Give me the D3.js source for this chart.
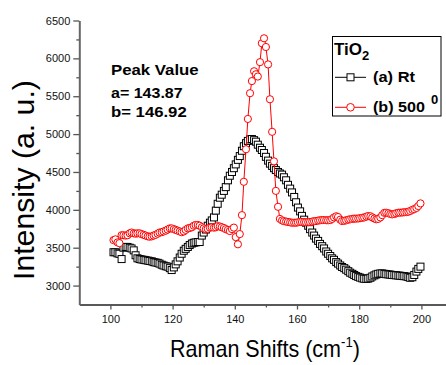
<!DOCTYPE html>
<html>
<head>
<meta charset="utf-8">
<script src="https://cdn.jsdelivr.net/npm/d3@7"></script>
<style>
  body { margin: 0; background: #fff; }
  svg { display: block; font-family: Arial, "Liberation Sans", sans-serif; }
</style>
</head>
<body>
<div id="chart"></div>
<script>
// raman shift grid (cm-1), shared by both spectra
const shifts = [
  101.0,101.6,102.3,102.9,103.6,104.2,104.9,105.5,106.2,106.8,
  107.5,108.1,108.7,109.4,110.0,110.7,111.3,112.0,112.6,113.3,
  113.9,114.5,115.2,115.8,116.5,117.1,117.8,118.4,119.1,119.7,
  120.4,121.0,121.6,122.3,122.9,123.6,124.2,124.9,125.5,126.2,
  126.8,127.4,128.1,128.7,129.4,130.0,130.7,131.3,132.0,132.6,
  133.3,133.9,134.5,135.2,135.8,136.5,137.1,137.8,138.4,139.1,
  139.7,140.3,141.0,141.6,142.3,142.9,143.6,144.2,144.9,145.5,
  146.2,146.8,147.4,148.1,148.7,149.4,150.0,150.7,151.3,152.0,
  152.6,153.2,153.9,154.5,155.2,155.8,156.5,157.1,157.8,158.4,
  159.1,159.7,160.3,161.0,161.6,162.3,162.9,163.6,164.2,164.9,
  165.5,166.1,166.8,167.4,168.1,168.7,169.4,170.0,170.7,171.3,
  171.9,172.6,173.2,173.9,174.5,175.2,175.8,176.5,177.1,177.8,
  178.4,179.0,179.7,180.3,181.0,181.6,182.3,182.9,183.6,184.2,
  184.9,185.5,186.1,186.8,187.4,188.1,188.7,189.4,190.0,190.6,
  191.3,191.9,192.6,193.2,193.9,194.5,195.2,195.8,196.4,197.1,
  197.7,198.4,199.0,199.7
];

// (a) Rt
const rtIntensity = [
  3440,3440,3425,3420,3350,3500,3510,3510,3500,3490,
  3465,3400,3360,3350,3345,3340,3335,3330,3325,3320,
  3310,3305,3300,3290,3275,3265,3255,3250,3230,3205,
  3240,3280,3320,3370,3420,3460,3485,3510,3535,3555,
  3565,3570,3575,3575,3660,3700,3740,3790,3830,3860,
  3900,3990,4080,4160,4200,4250,4300,4390,4450,4500,
  4550,4600,4660,4710,4780,4840,4880,4910,4930,4935,
  4920,4900,4860,4820,4790,4750,4700,4650,4610,4580,
  4550,4525,4500,4480,4465,4430,4390,4330,4280,4230,
  4170,4100,4030,3980,3920,3870,3830,3790,3745,3700,
  3660,3620,3590,3550,3520,3490,3450,3420,3390,3360,
  3340,3310,3290,3265,3245,3230,3210,3190,3170,3155,
  3140,3125,3115,3105,3095,3090,3088,3092,3103,3120,
  3135,3147,3155,3160,3160,3155,3150,3147,3145,3140,
  3138,3135,3132,3130,3126,3124,3120,3112,3103,3110,
  3140,3185,3220,3250
];

// (b) 500 0
const annealIntensity = [
  3600,3610,3570,3560,3665,3665,3660,3665,3690,3700,
  3690,3685,3690,3690,3680,3670,3660,3650,3645,3650,
  3660,3670,3685,3700,3705,3715,3725,3740,3755,3755,
  3745,3735,3725,3715,3705,3715,3735,3755,3760,3770,
  3790,3800,3800,3790,3770,3755,3745,3750,3765,3770,
  3765,3770,3785,3780,3770,3760,3745,3735,3720,3745,
  3765,3640,3545,3680,3930,4370,4800,5200,5540,5700,
  5830,5790,5760,5950,6200,6265,6150,5920,5460,5030,
  4640,4250,4040,3880,3860,3850,3845,3840,3835,3830,
  3830,3830,3835,3840,3840,3838,3836,3838,3840,3845,
  3850,3852,3858,3862,3865,3865,3863,3862,3865,3880,
  3900,3915,3905,3870,3852,3855,3862,3870,3875,3880,
  3884,3884,3886,3890,3895,3900,3910,3918,3915,3900,
  3885,3875,3880,3900,3930,3960,3962,3955,3945,3940,
  3945,3955,3962,3963,3965,3968,3970,3975,3985,4000,
  4010,4025,4050,4085
];

const xTicks = [100, 120, 140, 160, 180, 200];
const xMinorTicks = [110, 130, 150, 170, 190, 210];
const yTicks = [3000, 3500, 4000, 4500, 5000, 5500, 6000, 6500];
const yMinorTicks = [3250, 3750, 4250, 4750, 5250, 5750, 6250];

const peakLines = ["Peak Value", "a= 143.87", "b= 146.92"];
const legendNames = ["(a) Rt", "(b) 500"];

const W = 446, H = 365;

const svg = d3.select("#chart").append("svg")
    .attr("width", W)
    .attr("height", H);

svg.append("rect").attr("width", W).attr("height", H).attr("fill", "#fff");

const x = d3.scaleLinear().domain([90, 210]).range([79.3, 452.5]);
const y = d3.scaleLinear().domain([2750, 6500]).range([304.5, 20.5]);

// squeeze a group horizontally so it is targetW wide, left edge at x0
function fitWidth(g, x0, y0, targetW) {
    const w = g.node().getBBox().width;
    g.attr("transform", `translate(${x0},${y0}) scale(${targetW / w},1)`);
}

// axes
const axisColor = "#555";

const gx = svg.append("g").attr("transform", "translate(0,304.5)");
gx.call(d3.axisBottom(x).tickValues(xTicks).tickSize(5).tickSizeOuter(0).tickPadding(6));
gx.append("g").call(d3.axisBottom(x).tickValues(xMinorTicks).tickSize(3).tickFormat(""))
    .select(".domain").remove();

const gy = svg.append("g").attr("transform", "translate(79.3,0)");
gy.call(d3.axisLeft(y).tickValues(yTicks).tickFormat(d3.format("d"))
    .tickSize(6).tickSizeOuter(0).tickPadding(3));
gy.append("g").call(d3.axisLeft(y).tickValues(yMinorTicks).tickSize(3).tickFormat(""))
    .select(".domain").remove();

gx.select(".domain").attr("stroke", "#222").attr("stroke-width", 1.4);
gy.select(".domain").attr("stroke", "#666").attr("stroke-width", 2);
svg.selectAll(".tick line").attr("stroke", axisColor).attr("stroke-width", 1.3);
svg.selectAll(".tick text")
    .attr("fill", "#111")
    .attr("font-size", 11)
    .attr("font-family", "Arial, 'Liberation Sans', sans-serif");

// series
const rows = shifts.map((s, i) => ({ s: s, a: rtIntensity[i], b: annealIntensity[i] }));

const lineA = d3.line().x(d => x(d.s)).y(d => y(d.a));
const lineB = d3.line().x(d => x(d.s)).y(d => y(d.b));

svg.append("path")
    .datum(rows)
    .attr("d", lineA)
    .attr("fill", "none")
    .attr("stroke", "#000")
    .attr("stroke-width", 1);

svg.append("g").selectAll("rect")
    .data(rows)
    .join("rect")
    .attr("x", d => x(d.s) - 3.5)
    .attr("y", d => y(d.a) - 3.5)
    .attr("width", 7)
    .attr("height", 7)
    .attr("fill", "#fff")
    .attr("stroke", "#000")
    .attr("stroke-width", 1);

svg.append("path")
    .datum(rows)
    .attr("d", lineB)
    .attr("fill", "none")
    .attr("stroke", "#f00")
    .attr("stroke-width", 1);

svg.append("g").selectAll("circle")
    .data(rows)
    .join("circle")
    .attr("cx", d => x(d.s))
    .attr("cy", d => y(d.b))
    .attr("r", 3.6)
    .attr("fill", "#fff")
    .attr("stroke", "#f00")
    .attr("stroke-width", 1);

// peak annotation
const peakY = [75, 97.5, 117.3];
const peakW = [88, 72, 76];
peakLines.forEach((t, i) => {
    const g = svg.append("g");
    g.append("text")
        .attr("font-size", 14)
        .attr("font-weight", "bold")
        .attr("fill", "#000")
        .text(t);
    fitWidth(g, 111, peakY[i], peakW[i]);
});

// axis titles
const yl = svg.append("g");
yl.append("text")
    .attr("font-size", 29)
    .attr("fill", "#000")
    .text("Intensity (a. u.)");
const ylw = yl.node().getBBox().width;
yl.attr("transform", `translate(34,280) rotate(-90) scale(${200 / ylw},1)`);

const xl = svg.append("g");
const xt = xl.append("text").attr("font-size", 23).attr("fill", "#000");
xt.append("tspan").text("Raman Shifts (cm");
xt.append("tspan").attr("font-size", 14).attr("dy", -10).text("-1");
xt.append("tspan").attr("dy", 10).text(")");
fitWidth(xl, 170, 357, 190);

// legend
const leg = svg.append("g");
leg.append("rect")
    .attr("x", 332.5).attr("y", 36.5)
    .attr("width", 108.5).attr("height", 79.5)
    .attr("fill", "#fff")
    .attr("stroke", "#000")
    .attr("stroke-width", 1);

const tio = leg.append("text")
    .attr("x", 334).attr("y", 55)
    .attr("font-size", 17)
    .attr("font-weight", "bold")
    .attr("fill", "#000");
tio.append("tspan").text("TiO");
tio.append("tspan").attr("font-size", 13).attr("dy", 5).text("2");

const legY = [77.3, 107.3];
leg.append("line")
    .attr("x1", 335).attr("x2", 366).attr("y1", legY[0]).attr("y2", legY[0])
    .attr("stroke", "#000").attr("stroke-width", 1);
leg.append("rect")
    .attr("x", 347).attr("y", legY[0] - 3.5).attr("width", 7).attr("height", 7)
    .attr("fill", "#fff").attr("stroke", "#000");
leg.append("line")
    .attr("x1", 335).attr("x2", 366).attr("y1", legY[1]).attr("y2", legY[1])
    .attr("stroke", "#f00").attr("stroke-width", 1);
leg.append("circle")
    .attr("cx", 350.5).attr("cy", legY[1]).attr("r", 3.8)
    .attr("fill", "#fff").attr("stroke", "#f00");

const legW = [42, 52];
legendNames.forEach((t, i) => {
    const g = leg.append("g");
    g.append("text")
        .attr("font-size", 15)
        .attr("font-weight", "bold")
        .attr("fill", "#000")
        .text(t);
    fitWidth(g, 373, legY[i] + 5, legW[i]);
});

leg.append("text")
    .attr("x", 431).attr("y", 104)
    .attr("font-size", 13)
    .attr("font-weight", "bold")
    .attr("fill", "#000")
    .text("0");
</script>
</body>
</html>
